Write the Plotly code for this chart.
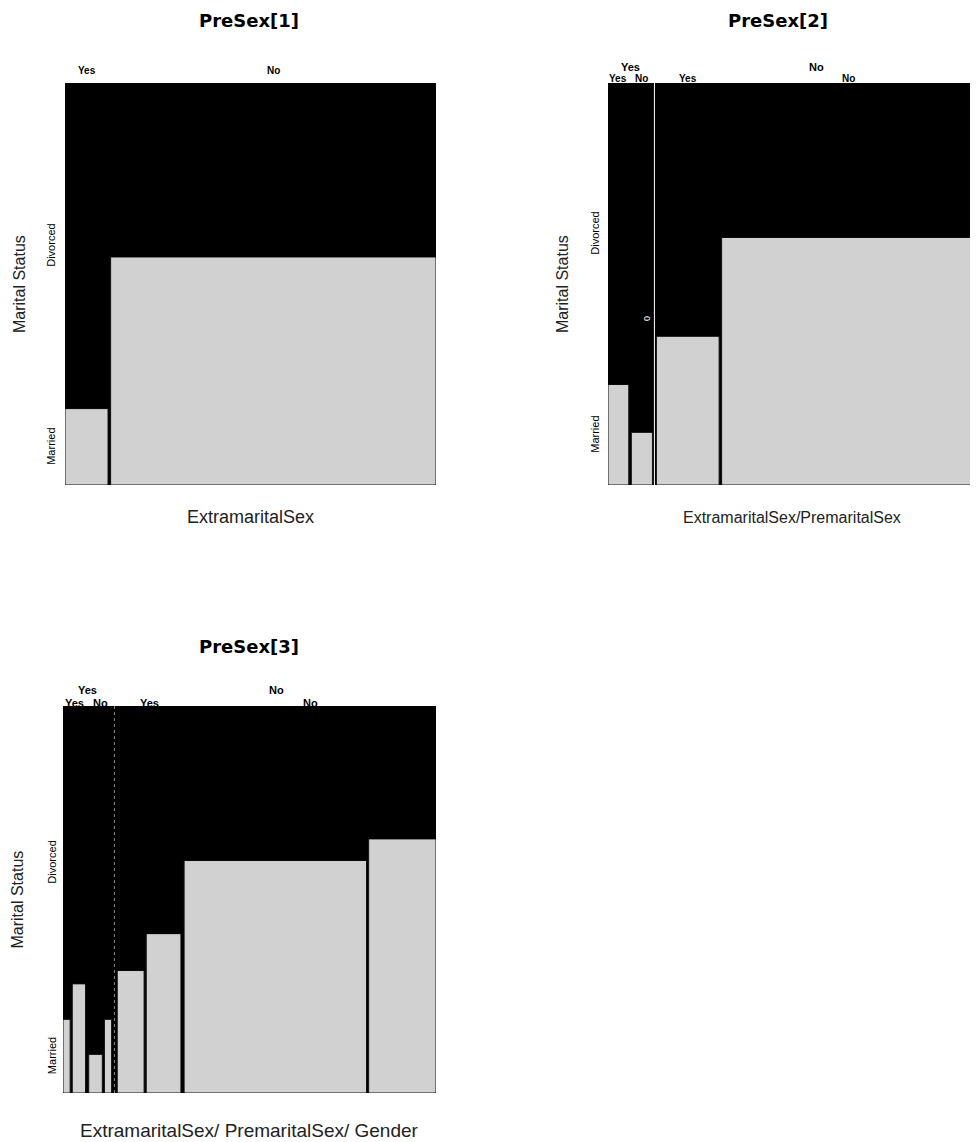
import itertools
import plotly.graph_objects as go

# ---------------- data ----------------
extra_levels = ["Yes", "No"]      # ExtramaritalSex
pre_levels = ["Yes", "No"]        # PremaritalSex
gender_levels = ["Women", "Men"]  # Gender
# counts ordered ExtramaritalSex > PremaritalSex > Gender
divorced = [17, 28, 36, 17, 54, 60, 214, 68]
married = [4, 11, 4, 4, 25, 42, 322, 130]

panel_titles = ["PreSex[1]", "PreSex[2]", "PreSex[3]"]
x_titles = ["ExtramaritalSex", "ExtramaritalSex/PremaritalSex",
            "ExtramaritalSex/ PremaritalSex/ Gender"]
y_title = "Marital Status"
status_labels = ["Divorced", "Married"]

levels = [extra_levels, pre_levels, gender_levels]
combos = list(itertools.product(range(2), range(2), range(2)))

OFF = 8                 # page body margin
W, H = 970, 1134
FONT = "Liberation Sans, Arial, sans-serif"
LIGHT = "#d1d1d1"


def fx(px):
    return (px - OFF) / W


def fy(py):
    return 1 - (py - OFF) / H


# ---------------- style per panel (page pixel boxes) ----------------
panels = [
    dict(box=(65, 436, 83, 485), gaps=[0.007], label_shifts=[13], label_sizes=[10],
         title_xy=(249, None), xt_shift=32, xt_size=18, yl_shift=-14, div=None),
    dict(box=(608, 976, 83, 485), gaps=[0.011, 0.007], label_shifts=[16, 5], label_sizes=[11, 10],
         title_xy=(778, None), xt_shift=32, xt_size=16, yl_shift=-13,
         div=dict(color="white", dash="solid")),
    dict(box=(63, 436, 706, 1093), gaps=[0.016, 0.009, 0.006], label_shifts=[16, 3],
         label_sizes=[11, 11],
         title_xy=(249, 646), xt_shift=37, xt_size=19, yl_shift=-11,
         div=dict(color="#8a8a8a", dash="dot")),
]


def aggregate(depth):
    cells = {}
    for idx, d, m in zip(combos, divorced, married):
        key = idx[:depth]
        c = cells.setdefault(key, [0, 0])
        c[0] += d
        c[1] += m
    return cells


def layout_cells(cells, gap_fracs):
    total = sum(d + m for d, m in cells.values())
    pos, prev, out = 0.0, None, []
    for key, (d, m) in cells.items():
        if prev is not None:
            lvl = next(i for i in range(len(key)) if key[i] != prev[i])
            pos += gap_fracs[lvl] * total
        w = d + m
        out.append(dict(key=key, x0=pos, x1=pos + w, d=d, m=m))
        pos += w
        prev = key
    return out, pos


fig = go.Figure()
annotations = []
shapes = []
layout_axes = {}

for p, spec in enumerate(panels):
    n = p + 1
    depth = n
    sfx = "" if n == 1 else str(n)
    cells, end = layout_cells(aggregate(depth), spec["gaps"])
    centers = [(c["x0"] + c["x1"]) / 2 for c in cells]
    widths = [c["x1"] - c["x0"] for c in cells]
    mfrac = [c["m"] / (c["m"] + c["d"]) for c in cells]
    dfrac = [c["d"] / (c["m"] + c["d"]) for c in cells]

    fig.add_trace(go.Bar(x=centers, y=mfrac, base=[0] * len(cells), width=widths,
                         marker=dict(color=LIGHT, line=dict(color="#111111", width=1)),
                         xaxis="x" + sfx, yaxis="y" + sfx, showlegend=False, hoverinfo="skip"))
    fig.add_trace(go.Bar(x=centers, y=dfrac, base=mfrac, width=widths,
                         marker=dict(color="black", line=dict(width=0)),
                         xaxis="x" + sfx, yaxis="y" + sfx, showlegend=False, hoverinfo="skip"))

    bx0, bx1, by0, by1 = spec["box"]
    layout_axes["xaxis" + sfx] = dict(domain=[fx(bx0), fx(bx1)], range=[0, end],
                                      anchor="y" + sfx, visible=False, fixedrange=True)
    layout_axes["yaxis" + sfx] = dict(domain=[fy(by1), fy(by0)], range=[0, 1],
                                      anchor="x" + sfx, visible=False, fixedrange=True)

    # group labels on top
    for lvl, shift in enumerate(spec["label_shifts"]):
        groups = {}
        for c in cells:
            g = c["key"][:lvl + 1]
            if g in groups:
                groups[g][1] = c["x1"]
            else:
                groups[g] = [c["x0"], c["x1"]]
        for g, (g0, g1) in groups.items():
            annotations.append(dict(text=levels[lvl][g[lvl]], x=(g0 + g1) / 2, xref="x" + sfx,
                                    y=1, yref=f"y{sfx} domain", xanchor="center",
                                    yanchor="middle", yshift=shift, showarrow=False,
                                    font=dict(family=FONT, size=spec["label_sizes"][lvl],
                                              color="black", weight="bold")))

    # divider between ExtramaritalSex groups
    if spec["div"] is not None:
        last_yes = max(c["x1"] for c in cells if c["key"][0] == 0)
        first_no = min(c["x0"] for c in cells if c["key"][0] == 1)
        xm = (last_yes + first_no) / 2
        shapes.append(dict(type="line", x0=xm, x1=xm, xref="x" + sfx, y0=0, y1=1,
                           yref=f"y{sfx} domain",
                           line=dict(color=spec["div"]["color"], width=1, dash=spec["div"]["dash"])))

    # status labels at the first column's cells
    first = cells[0]
    tot = first["m"] + first["d"]
    ys = [(first["m"] + first["d"] / 2) / tot, first["m"] / 2 / tot]
    for lab, yv in zip(status_labels, ys):
        annotations.append(dict(text=lab, x=0, xref=f"x{sfx} domain", xshift=spec["yl_shift"],
                                y=yv, yref="y" + sfx, textangle=-90, showarrow=False,
                                xanchor="center", yanchor="middle",
                                font=dict(family=FONT, size=11, color="black")))

    # axis titles
    annotations.append(dict(text=y_title, x=0, xref=f"x{sfx} domain", xshift=-46,
                            y=0.5, yref=f"y{sfx} domain", textangle=-90, showarrow=False,
                            xanchor="center", yanchor="middle",
                            font=dict(family=FONT, size=16, color="#222222")))
    annotations.append(dict(text=x_titles[p], x=0.5, xref=f"x{sfx} domain",
                            y=0, yref=f"y{sfx} domain", yshift=-spec["xt_shift"],
                            showarrow=False, xanchor="center", yanchor="middle",
                            font=dict(family=FONT, size=spec["xt_size"], color="#222222")))
    # panel title
    tx, ty = spec["title_xy"]
    if ty is None:
        ty_paper, yanch = 1.0, "top"
    else:
        ty_paper, yanch = fy(ty), "middle"
    annotations.append(dict(text="<b>%s</b>" % panel_titles[p], x=fx(tx), xref="paper",
                            y=ty_paper, yref="paper", showarrow=False,
                            xanchor="center", yanchor=yanch,
                            font=dict(family="DejaVu Sans, sans-serif", size=18, color="black")))

# small glyph visible inside panel 2
annotations.append(dict(text="0", x=(647 - 608) / (976 - 608), xref="x2 domain",
                        y=(485 - 319) / (485 - 83), yref="y2 domain", textangle=-90,
                        xanchor="center", yanchor="middle",
                        showarrow=False, font=dict(family=FONT, size=9, color="white")))

fig.update_layout(
    width=W, height=H,
    margin=dict(l=0, r=0, t=0, b=0),
    paper_bgcolor="white",
    plot_bgcolor="black",
    barmode="overlay",
    annotations=annotations,
    shapes=shapes,
    **layout_axes,
)

fig.write_html("out.html")
